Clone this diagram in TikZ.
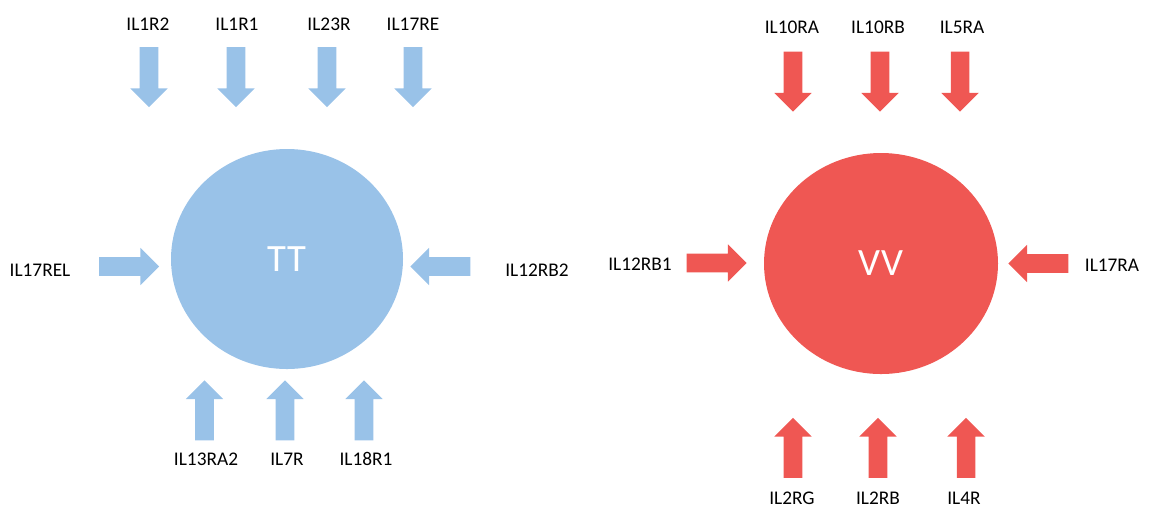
\documentclass[tikz,border=0pt]{standalone}
\usepackage{fontspec}
\setmainfont{Carlito}
\usetikzlibrary{shapes.geometric, shapes.arrows}

\definecolor{hellblau}{HTML}{99C2E8}
\definecolor{hellrot}{HTML}{EF5753}

\begin{document}
\begin{tikzpicture}[x=0.75pt, y=-0.75pt,
    pfeil/.style = {single arrow, draw=none, minimum height=45pt, inner sep=6.75pt,
                    single arrow head extend=7.1pt, single arrow tip angle=90},
    runter/.style = {pfeil, shape border rotate=270},
    hoch/.style = {pfeil, shape border rotate=90},
    links/.style = {pfeil, shape border rotate=180},
    rechts/.style = {pfeil},
    schrift/.style = {inner sep=0pt, font=\fontsize{14.5pt}{16pt}\selectfont},
    kreis/.style = {ellipse, draw=none, inner sep=0pt, text=white, font=\fontsize{29pt}{34pt}\selectfont}]
            \useasboundingbox (0,0) rectangle (1151,512);   %Rahmen

            % linke Gruppe
            \node [kreis, fill=hellblau, minimum width=174pt, minimum height=165pt] (tt) at (287,259) {TT};
            \node [runter, fill=hellblau] (il1r2) at (149,72.5) {};
            \node [runter, fill=hellblau] (il1r1) at (236,72.5) {};
            \node [runter, fill=hellblau] (il23r) at (327,72.5) {};
            \node [runter, fill=hellblau] (il17re) at (413,72.5) {};
            \node [schrift] (il1r2-txt) at (148,24) {IL1R2};
            \node [schrift] (il1r1-txt) at (237,24) {IL1R1};
            \node [schrift] (il23r-txt) at (329,24) {IL23R};
            \node [schrift] (il17re-txt) at (413,24) {IL17RE};
            \node [rechts, fill=hellblau] (il17rel) at (124.5,266.5) {};
            \node [schrift] (il17rel-txt) at (40,270) {IL17REL};
            \node [links, fill=hellblau] (il12rb2) at (445,266.5) {};
            \node [schrift] (il12rb2-txt) at (537,270) {IL12RB2};
            \node [hoch, fill=hellblau] (il13ra2) at (204.5,415) {};
            \node [hoch, fill=hellblau] (il7r) at (285,415) {};
            \node [hoch, fill=hellblau] (il18r1) at (364,415) {};
            \node [schrift] (il13ra2-txt) at (206,459) {IL13RA2};
            \node [schrift] (il7r-txt) at (287,459) {IL7R};
            \node [schrift] (il18r1-txt) at (366,459) {IL18R1};

            % rechte Gruppe
            \node [kreis, fill=hellrot, minimum width=175.5pt, minimum height=165.75pt] (vv) at (881,263.5) {VV};
            \node [runter, fill=hellrot] (il10ra) at (793,77) {};
            \node [runter, fill=hellrot] (il10rb) at (880,77) {};
            \node [runter, fill=hellrot] (il5ra) at (960,77) {};
            \node [schrift] (il10ra-txt) at (792,27) {IL10RA};
            \node [schrift] (il10rb-txt) at (878,27) {IL10RB};
            \node [schrift] (il5ra-txt) at (962,27) {IL5RA};
            \node [rechts, fill=hellrot] (il12rb1) at (712,263) {};
            \node [schrift] (il12rb1-txt) at (640,264) {IL12RB1};
            \node [links, fill=hellrot] (il17ra) at (1043,263.5) {};
            \node [schrift] (il17ra-txt) at (1112,265) {IL17RA};
            \node [hoch, fill=hellrot] (il2rg) at (793,452.5) {};
            \node [hoch, fill=hellrot] (il2rb) at (878,452.5) {};
            \node [hoch, fill=hellrot] (il4r) at (966,452.5) {};
            \node [schrift] (il2rg-txt) at (792,498) {IL2RG};
            \node [schrift] (il2rb-txt) at (878,498) {IL2RB};
            \node [schrift] (il4r-txt) at (964,498) {IL4R};
        \end{tikzpicture}
\end{document}
